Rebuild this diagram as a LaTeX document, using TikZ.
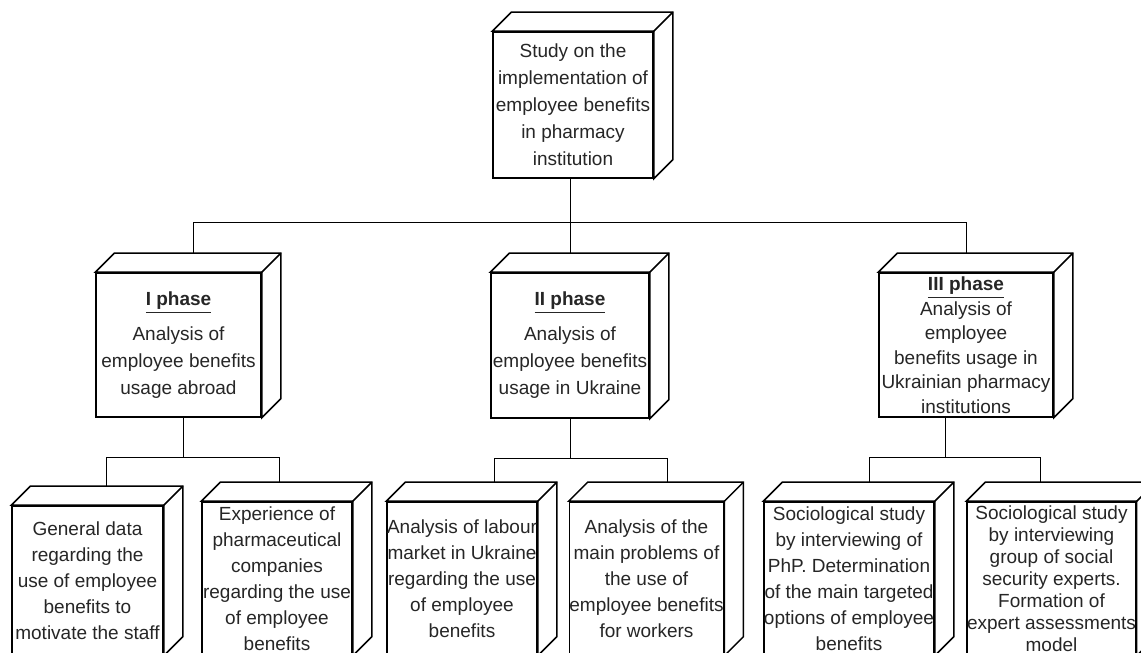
\documentclass[tikz,border=0pt]{standalone}
\usepackage{fontspec}
\setmainfont{Liberation Sans}
\usepackage{tikz}
\usetikzlibrary{calc, backgrounds}

\begin{document}
\begin{tikzpicture}[
  x=0.5pt, y=0.5pt,
  line width=0.75pt,
  face/.style={rectangle, draw, fill=white, inner sep=0pt, align=center,
               text=black!85, font=\fontsize{9.5}{13.5}\selectfont},
  phase/.style={face, minimum height=72pt},
  leaf/.style={face, minimum height=76.5pt, font=\fontsize{9.5}{13}\selectfont}
]
  \useasboundingbox (0,0) rectangle (1141,653);
  \clip (0,0) rectangle (1141,653);

  % root
  \node[face, minimum width=80pt, minimum height=73pt] (top) at (573,548)
    {Study on the\\implementation of\\employee benefits\\in pharmacy\\institution};

  % phases
  \node[phase, minimum width=82.5pt] (ph1) at (178.5,308)
    {\underline{\textbf{I phase}}\\[4pt]Analysis of\\employee benefits\\usage abroad};
  \node[phase, minimum width=79pt, minimum height=72.5pt] (ph2) at (570,307.5)
    {\underline{\textbf{II phase}}\\[4pt]Analysis of\\employee benefits\\usage in Ukraine};
  \node[phase, minimum width=87pt, font=\fontsize{9.5}{12.25}\selectfont] (ph3) at (966,308)
    {\underline{\textbf{III phase}}\\Analysis of\\employee\\benefits usage in\\Ukrainian pharmacy\\institutions};

  % studies
  \node[leaf, minimum width=75.5pt, minimum height=74.5pt] (b1) at (87.5,72.5)
    {General data\\regarding the\\use of employee\\benefits to\\motivate the staff};
  \node[leaf, minimum width=75pt] (b2) at (277,74.5)
    {Experience of\\pharmaceutical\\companies\\regarding the use\\of employee\\benefits};
  \node[leaf, minimum width=75pt] (b3) at (462,74.5)
    {Analysis of labour\\market in Ukraine\\regarding the use\\of employee\\benefits};
  \node[leaf, minimum width=73.5pt] (b4) at (646.5,74.5)
    {Analysis of the\\main problems of\\the use of\\employee benefits\\for workers};
  \node[leaf, minimum width=84pt] (b5) at (849,74.5)
    {Sociological study\\by interviewing of\\PhP. Determination\\of the main targeted\\options of employee\\benefits};
  \node[leaf, minimum width=83.5pt, font=\fontsize{9.5}{11}\selectfont] (b6) at (1051.5,74.5)
    {Sociological study\\by interviewing\\group of social\\security experts.\\Formation of\\expert assessments\\model};

  % tree lines
  \begin{scope}[on background layer]
    \draw (top.south -| ph2.north) -- (ph2.north);
    \draw ($(ph1.north)+(14.5,0)$) |- ($(ph2.north)+(0,50)$) -| (ph3.north);
    \foreach \ph/\sh/\ca/\sa/\cb/\sb in {ph1/4.5/b1/18.5/b2/2, ph2/0/b3/32/b4/20.5, ph3/-21/b5/20/b6/-11.5}
      \draw ($(\ph.south)+(\sh,0)$) -- ++(0,-40) coordinate (j)
            ($(\ca.north)+(\sa,0)$) |- (j) -| ($(\cb.north)+(\sb,0)$);
  \end{scope}

  % depth of the boxes
  \foreach \n in {top,ph1,ph2,ph3,b1,b2,b3,b4,b5,b6} {
    \filldraw[fill=white] (\n.north west) -- ++(19,19) -| ($(\n.south east)+(19,19)$)
      -- (\n.south east) -- (\n.north east) -- cycle;
    \draw (\n.north east) -- ++(19,19);
  }
\end{tikzpicture}
\end{document}
